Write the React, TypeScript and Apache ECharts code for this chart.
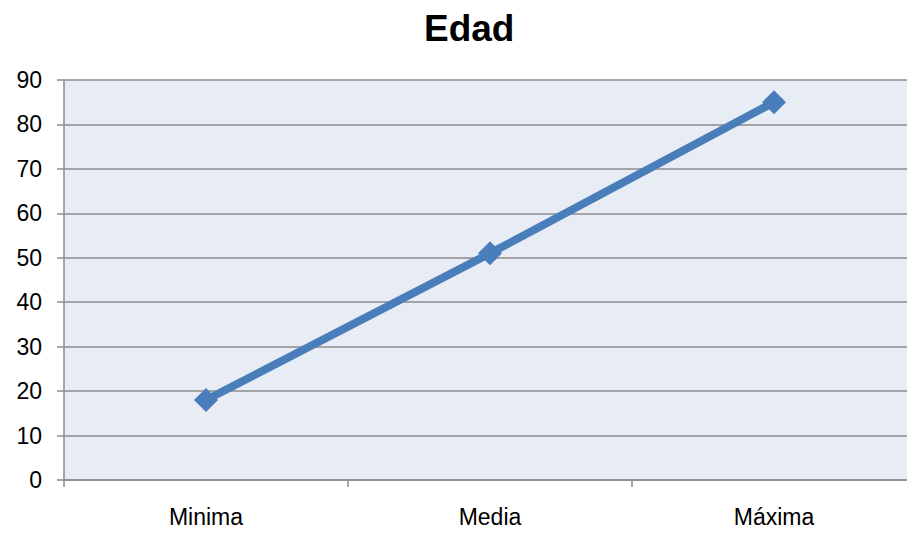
import React, { useEffect, useRef } from "react";
import * as echarts from "echarts";

const categories = ["Minima", "Media", "Máxima"];
const values = [18, 51, 85];
const titleText = "Edad";

export default function App() {
  const ref = useRef<HTMLDivElement>(null);
  useEffect(() => {
    const chart = echarts.init(ref.current!, null, { renderer: "svg" });
    chart.setOption({
      animation: false,
      backgroundColor: "#ffffff",
      title: {
        text: titleText,
        left: 419,
        top: 5,
        textStyle: { fontFamily: "Liberation Sans, Arial", fontSize: 37, fontWeight: "bold", color: "#000" },
      },
      grid: {
        left: 64,
        right: 0,
        top: 80,
        bottom: 53,
        show: true,
        backgroundColor: "#e8ecf4",
        borderWidth: 0,
      },
      xAxis: {
        type: "category",
        data: categories,
        boundaryGap: true,
        axisLine: { lineStyle: { color: "#8c8c8c", width: 1.5 } },
        axisTick: { show: true, length: 7, inside: false, lineStyle: { color: "#8c8c8c", width: 1.5 } },
        axisLabel: { margin: 25, fontFamily: "Liberation Sans, Arial", fontSize: 23, color: "#000" },
        splitLine: { show: false },
      },
      yAxis: {
        type: "value",
        min: 0,
        max: 90,
        interval: 10,
        axisLine: { show: true, lineStyle: { color: "#8c8c8c", width: 1.5 } },
        axisTick: { show: true, length: 7, lineStyle: { color: "#8c8c8c", width: 1.5 } },
        axisLabel: { margin: 22, fontFamily: "Liberation Sans, Arial", fontSize: 23, color: "#000" },
        splitLine: { show: true, lineStyle: { color: "#8c8c8c", width: 1.5 } },
      },
      series: [
        {
          type: "line",
          data: values,
          symbol: "diamond",
          symbolSize: 24,
          lineStyle: { color: "#4a7ebb", width: 8 },
          itemStyle: { color: "#4a7ebb" },
        },
      ],
    });
    return () => chart.dispose();
  }, []);
  return (
    <div
      style={{ position: "fixed", left: 0, top: 0, width: 907, height: 533, overflow: "hidden", background: "#fff" }}
    >
      <div ref={ref} style={{ width: 916, height: 533 }} />
    </div>
  );
}
